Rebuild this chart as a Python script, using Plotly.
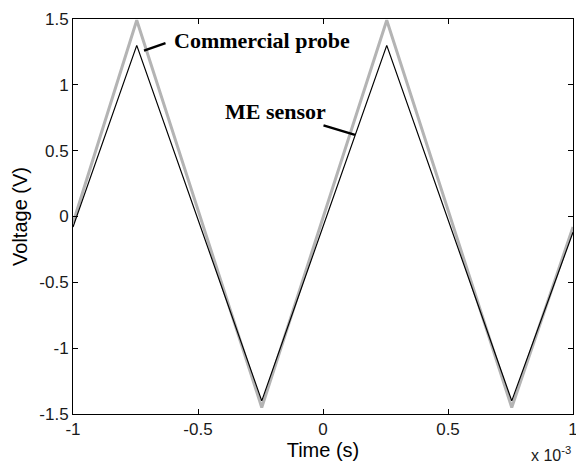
import plotly.graph_objects as go

# Time in units of 1e-3 s (axis shows "x 10^-3")
time_ms = [-1.0, -0.745, -0.245, 0.255, 0.755, 1.0]
commercial_probe = [-0.05, 1.49, -1.45, 1.49, -1.45, -0.08]
me_sensor = [-0.08, 1.30, -1.40, 1.30, -1.40, -0.12]

x_ticks = [-1, -0.5, 0, 0.5, 1]
x_tick_text = ["-1", "-0.5", "0", "0.5", "1"]
y_ticks = [-1.5, -1, -0.5, 0, 0.5, 1, 1.5]
y_tick_text = ["-1.5", "-1", "-0.5", "0", "0.5", "1", "1.5"]

fig = go.Figure()
fig.add_trace(go.Scatter(x=time_ms, y=commercial_probe, mode="lines",
                         line=dict(color="#b4b4b4", width=3), name="Commercial probe"))
fig.add_trace(go.Scatter(x=time_ms, y=me_sensor, mode="lines",
                         line=dict(color="black", width=1.2), name="ME sensor"))

sans = "Arial, Liberation Sans"
axis_common = dict(showgrid=False, zeroline=False, showline=True, linecolor="black",
                   linewidth=1, mirror="ticks", ticks="inside", ticklen=5,
                   tickcolor="black", ticklabeloverflow="allow", automargin=False,
                   tickfont=dict(family=sans, size=17, color="#1a1a1a"))

fig.update_xaxes(range=[-1, 1], tickvals=x_ticks, ticktext=x_tick_text,
                 title=dict(text="Time (s)", font=dict(family=sans, size=20, color="black"), standoff=3),
                 **axis_common)
fig.update_yaxes(range=[-1.5, 1.5], tickvals=y_ticks, ticktext=y_tick_text,
                 title=dict(text="Voltage (V)", font=dict(family=sans, size=20, color="black"), standoff=6),
                 **axis_common)

serif = dict(family="Liberation Serif, Times New Roman", size=22, color="black")
# Leader lines
fig.add_annotation(x=-0.716, y=1.26, ax=23, ay=-8, text="", showarrow=True,
                   arrowhead=0, arrowwidth=2.5, arrowcolor="black")
fig.add_annotation(x=0.128, y=0.62, ax=-33, ay=-10, text="", showarrow=True,
                   arrowhead=0, arrowwidth=2.5, arrowcolor="black")
# Label texts
fig.add_annotation(x=-0.606, y=1.34, xref="x", yref="y", xanchor="left", yanchor="middle",
                   text="<b>Commercial probe</b>", showarrow=False, font=serif)
fig.add_annotation(x=-0.402, y=0.795, xref="x", yref="y", xanchor="left", yanchor="middle",
                   text="<b>ME sensor</b>", showarrow=False, font=serif)
fig.add_annotation(x=1.0, y=0, xref="paper", yref="paper", xanchor="right", yanchor="bottom",
                   xshift=0, yshift=-52, text="x 10<sup>-3</sup>", showarrow=False,
                   font=dict(family=sans, size=16, color="#1a1a1a"))

fig.update_layout(width=576, height=466, margin=dict(l=73, r=3, t=19, b=52),
                  plot_bgcolor="white", paper_bgcolor="white", showlegend=False)

fig.write_html("out.html")
